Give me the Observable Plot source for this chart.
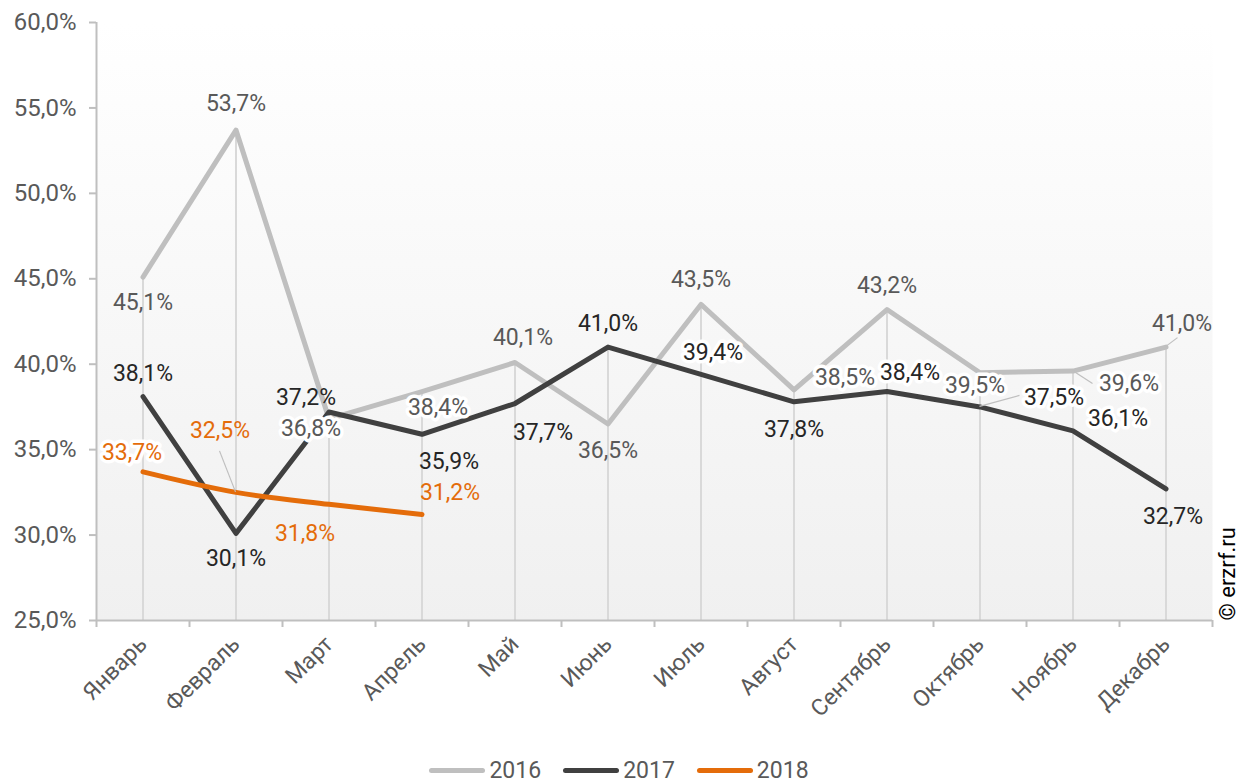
<!DOCTYPE html>
<html><head><meta charset="utf-8">
<script src="https://cdn.jsdelivr.net/npm/d3@7"></script>
<script src="https://cdn.jsdelivr.net/npm/@observablehq/plot@0.6"></script>
<style>
html,body{margin:0;padding:0;background:#fff;font-family:Roboto,sans-serif;}
#wrap{position:relative;width:1248px;height:783px;}
#legend{position:absolute;top:755px;left:0;width:1248px;height:30px;display:flex;justify-content:center;align-items:center;box-sizing:border-box;padding-right:10px;gap:22px;font-size:23px;color:#595959;}
#legend .it{display:flex;align-items:center;gap:4px;}
#legend .sw{width:56px;height:5px;border-radius:3px;}
</style></head><body>
<div id="wrap"><div id="chart"></div><div id="legend"></div></div>
<script>
const months = ["Январь","Февраль","Март","Апрель","Май","Июнь","Июль","Август","Сентябрь","Октябрь","Ноябрь","Декабрь"];
const years = ["2016","2017","2018"];
const v2016 = [45.1,53.7,36.8,38.4,40.1,36.5,43.5,38.5,43.2,39.5,39.6,41.0];
const v2017 = [38.1,30.1,37.2,35.9,37.7,41.0,39.4,37.8,38.4,37.5,36.1,32.7];
const v2018 = [33.7,32.5,31.8,31.2];
const yTicks = [25,30,35,40,45,50,55,60];
const lineColors = ["#bfbfbf","#404040","#e46c0a"];
const labelColors = ["#595959","#262626","#e46c0a"];

// label placement: [dx, dy, boxed]
const lab2016 = [[0,26],[0,-27],[-18,10,1],[16,16,1],[8,-25],[0,27],[0,-25],[51,-12,1],[0,-24],[-5,13,1],[56,13,1],[16,-24]];
const lab2017 = [[0,-23],[0,25],[-23,-14],[27,27],[28,29],[0,-24],[12,-22,1],[0,28],[23,-19,1],[74,-9,1],[45,-12,1],[7,28]];
const lab2018 = [[-11,-19,1],[-16,-62],[-24,29],[28,-22]];
// leader lines: [series, month, end dx, end dy]
const leaders = [[0,7,10,-10],[0,10,20,13],[0,11,12,-9],[1,9,40,-11],[2,1,-16,-41]];

const series = [v2016, v2017, v2018];
const labs = [lab2016, lab2017, lab2018];
const fmt = d => d.toFixed(1).replace(".", ",") + "%";
const rows = s => series[s].map((v, i) => ({x: i + 0.5, y: v, year: years[s]}));
const dropMax = months.map((m, i) => ({x: i + 0.5, y: d3.max(series, s => s[i])}));

const labelMarks = [];
series.forEach((vals, s) => {
  vals.forEach((v, i) => {
    const [dx, dy, boxed] = labs[s][i];
    labelMarks.push(Plot.text([{x: i + 0.5, y: v}], {
      x: "x", y: "y", text: d => fmt(d.y), dx, dy,
      fill: labelColors[s], fontSize: 23,
      stroke: boxed ? "white" : "none", strokeWidth: boxed ? 7 : 0, strokeLinejoin: "round",
      paintOrder: "stroke"
    }));
  });
});

const chart = Plot.plot({
  width: 1248, height: 750,
  marginTop: 22, marginBottom: 130, marginLeft: 96, marginRight: 36,
  style: {fontFamily: "Roboto, sans-serif", background: "transparent"},
  x: {type: "linear", domain: [0, 12], axis: null},
  y: {domain: [25, 60], axis: null},
  marks: [
    Plot.frame({fill: "url(#bggrad)", stroke: "none"}),
    Plot.ruleX(dropMax, {x: "x", y1: 25, y2: "y", stroke: "#d9d9d9", strokeWidth: 2}),
    Plot.axisY({ticks: yTicks, tickFormat: fmt, tickSize: 7, tickPadding: 13, fontSize: 24, fill: "#595959", stroke: "#bfbfbf", strokeWidth: 2, label: null}),
    Plot.axisX({ticks: d3.range(13), tickFormat: () => "", tickSize: 7, stroke: "#bfbfbf", strokeWidth: 2, label: null}),
    Plot.axisX({ticks: months.map((m, i) => i + 0.5), tickFormat: d => months[Math.round(d - 0.5)], tickSize: 0, tickPadding: 20, tickRotate: -45, fontSize: 23, fill: "#595959", label: null}),
    Plot.ruleX([0], {stroke: "#bfbfbf", strokeWidth: 2}),
    Plot.ruleY([25], {stroke: "#bfbfbf", strokeWidth: 2}),
    Plot.line(rows(0), {x: "x", y: "y", stroke: lineColors[0], strokeWidth: 5, strokeLinecap: "round", strokeLinejoin: "round"}),
    Plot.line(rows(1), {x: "x", y: "y", stroke: lineColors[1], strokeWidth: 5, strokeLinecap: "round", strokeLinejoin: "round"}),
    Plot.line(rows(2), {x: "x", y: "y", stroke: lineColors[2], strokeWidth: 5, strokeLinecap: "round", strokeLinejoin: "round", curve: "monotone-x"}),
    ...labelMarks,
    Plot.text(["© erzrf.ru"], {frameAnchor: "bottom-right", rotate: -90, textAnchor: "start", lineAnchor: "middle", dx: 15, fontSize: 22, fill: "#000"})
  ]
});

const svg = d3.select(chart);
const grad = svg.insert("defs", ":first-child").append("linearGradient")
  .attr("id", "bggrad").attr("x1", 0).attr("y1", 0).attr("x2", 0).attr("y2", 1);
grad.append("stop").attr("offset", "0%").attr("stop-color", "#ffffff");
grad.append("stop").attr("offset", "100%").attr("stop-color", "#f0f0f0");

// leader lines using the plot's own scales
const xs = chart.scale("x"), ys = chart.scale("y");
const lg = svg.append("g").attr("stroke", "#bfbfbf").attr("stroke-width", 1.2);
leaders.forEach(([s, i, ex, ey]) => {
  const px = xs.apply(i + 0.5), py = ys.apply(series[s][i]);
  lg.append("line").attr("x1", px).attr("y1", py).attr("x2", px + ex).attr("y2", py + ey);
});

document.getElementById("chart").appendChild(chart);

const legend = document.getElementById("legend");
years.forEach((y, s) => {
  const it = document.createElement("div"); it.className = "it";
  const sw = document.createElement("div"); sw.className = "sw"; sw.style.background = lineColors[s];
  const t = document.createElement("span"); t.textContent = y;
  it.appendChild(sw); it.appendChild(t); legend.appendChild(it);
});
</script>
</body></html>
